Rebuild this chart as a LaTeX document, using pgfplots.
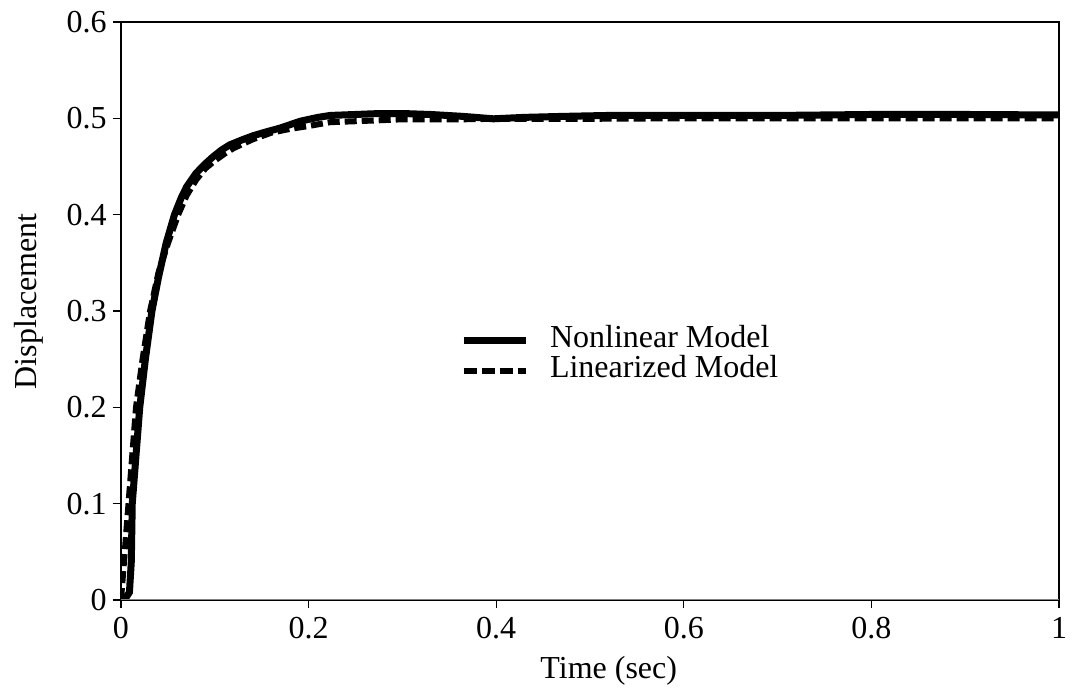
\documentclass[border=0pt]{standalone}
\usepackage{fontspec}
\setmainfont{Liberation Serif}
\usepackage{pgfplots}
\pgfplotsset{compat=1.18}

\newcommand{\lbl}{\fontsize{16}{19}\selectfont}

\begin{document}
\begin{tikzpicture}
\useasboundingbox (-60.5pt,-44.5pt) rectangle (475.5pt,300pt);
\begin{axis}[
    scale only axis,
    width=469pt, height=289pt,
    xmin=0, xmax=1, ymin=0, ymax=0.6,
    xtick={0,0.2,...,1}, ytick={0,0.1,...,0.6},
    tick align=outside, tick pos=left,
    major tick length=4pt,
    tick style={black, line width=0.6pt},
    axis line style={black, line width=0.7pt},
    /pgf/number format/assume math mode=true,
    tick label style={font=\lbl},
    xticklabel style={inner sep=0pt, yshift=-4.5pt},
    yticklabel style={inner sep=0pt, xshift=-3pt},
    xlabel={Time (sec)}, ylabel={Displacement},
    every axis x label/.style={at={([yshift=-39.5pt]axis description cs:0.52,0)}, anchor=base, font=\lbl},
    every axis y label/.style={at={([xshift=-42.2pt]axis description cs:0,0.517)}, anchor=base, rotate=90, font=\lbl},
    legend image code/.code={\draw[#1] (0pt,0pt) -- (31pt,0pt);},
    legend style={at={(axis cs:0.361,0.285)}, anchor=north west, draw=none, fill=none,
        font=\lbl, inner sep=0pt, column sep=10.5pt,
        nodes={inner sep=0pt, text height=11pt, text depth=4pt}},
    legend cell align=left,
]
\addplot[black, line width=3pt, dash pattern=on 6pt off 2.5pt, forget plot] coordinates {
  (0,0) (0.004,0.05) (0.008,0.1) (0.012,0.15) (0.016,0.2) (0.023,0.25)
  (0.031,0.3) (0.04,0.34) (0.05,0.37) (0.061,0.4) (0.07,0.42) (0.08,0.436)
  (0.09,0.448) (0.1,0.456) (0.11,0.463) (0.12,0.469) (0.14,0.478) (0.16,0.485)
  (0.18,0.489) (0.2,0.492) (0.223,0.496) (0.25,0.497) (0.276,0.498) (0.3,0.499)
  (0.365,0.499) (0.4,0.4995) (0.5,0.4995) (0.6,0.5) (0.8,0.5) (1.0,0.5)
};
\addplot[black, line width=3.5pt] coordinates {
  (0,0) (0.005,0.002) (0.009,0.008) (0.011,0.04) (0.012,0.1) (0.016,0.15)
  (0.02,0.2) (0.026,0.25) (0.033,0.3) (0.04,0.335) (0.048,0.37) (0.057,0.4)
  (0.064,0.417) (0.07,0.429) (0.08,0.443) (0.09,0.453) (0.098,0.46) (0.107,0.467)
  (0.116,0.4725) (0.13,0.478) (0.141,0.482) (0.155,0.486) (0.17,0.49) (0.191,0.497)
  (0.21,0.501) (0.223,0.503) (0.25,0.504) (0.276,0.505) (0.3,0.505) (0.33,0.504)
  (0.365,0.502) (0.397,0.4995) (0.43,0.501) (0.47,0.502) (0.52,0.503) (0.6,0.503)
  (0.7,0.503) (0.75,0.5035) (0.8,0.504) (0.9,0.504) (1.0,0.5035)
};
\addlegendentry{Nonlinear Model}
\addlegendimage{black, line width=3pt, dash pattern=on 6.5pt off 2.5pt}
\addlegendentry{Linearized Model}
\draw[gray, line width=0.9pt] (axis cs:0,0) -- (axis cs:1,0);
\end{axis}
\end{tikzpicture}
\end{document}
